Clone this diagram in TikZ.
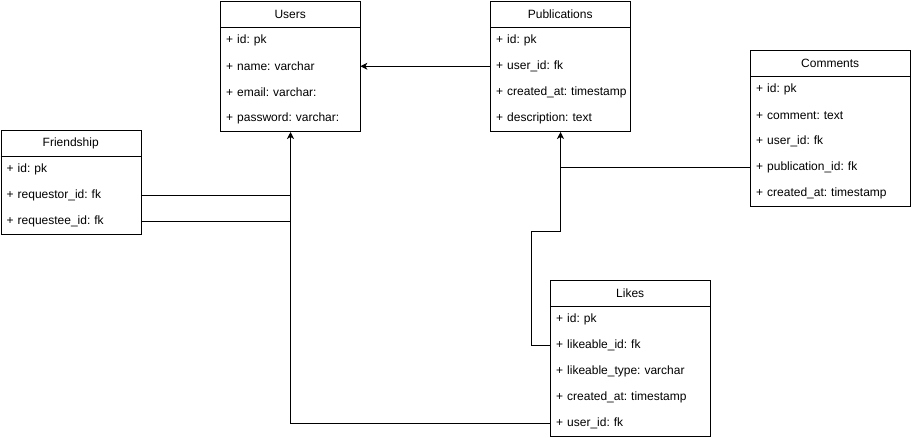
\documentclass[tikz,border=0pt]{standalone}
\usepackage{fontspec}
\setmainfont{Liberation Sans}
\usetikzlibrary{arrows.meta}

\begin{document}
\frenchspacing
\begin{tikzpicture}[
  x=1pt, y=-1pt,
  every node/.style={font=\fontsize{12pt}{14pt}\selectfont},
  tablebox/.style={draw=black, line width=1pt, anchor=north west, inner sep=0pt},
  tabletitle/.style={anchor=north west, inner sep=0pt, minimum height=26pt, align=center},
  tablerow/.style={anchor=north west, inner xsep=6pt, inner ysep=0pt, minimum height=26pt,
                   text width=#1, align=left},
  link/.style={line width=1pt, draw=black},
  fk/.style={link, -{Stealth[length=7pt,width=7pt,inset=2pt]}}
]
\useasboundingbox (0,0) rectangle (912,440);
\fill[white] (0,0) rectangle (912,440);

% ---------- Users ----------
\node[tablebox, minimum width=140pt, minimum height=130pt] (users) at (220,1) {};
\node[tabletitle, minimum width=140pt] (users-title) at (220,1) {Users};
\draw[link] (220,27) -- (360,27);
\node[tablerow=128pt] (users-id)    at (220,27)  {\mbox{+ id: pk}};
\node[tablerow=128pt] (users-name)  at (220,53)  {\mbox{+ name: varchar}};
\node[tablerow=128pt] (users-email) at (220,79)  {\mbox{+ email: varchar:}};
\node[tablerow=128pt] (users-pass)  at (220,105) {\mbox{+ password: varchar:}};

% ---------- Publications ----------
\node[tablebox, minimum width=140pt, minimum height=130pt] (pubs) at (490,1) {};
\node[tabletitle, minimum width=140pt] (pubs-title) at (490,1) {Publications};
\draw[link] (490,27) -- (630,27);
\node[tablerow=128pt] (pubs-id)   at (490,27)  {\mbox{+ id: pk}};
\node[tablerow=128pt] (pubs-user) at (490,53)  {\mbox{+ user\_id: fk}};
\node[tablerow=128pt] (pubs-date) at (490,79)  {\mbox{+ created\_at: timestamp}};
\node[tablerow=128pt] (pubs-desc) at (490,105) {\mbox{+ description: text}};

% ---------- Comments ----------
\node[tablebox, minimum width=160pt, minimum height=156pt] (com) at (750,50) {};
\node[tabletitle, minimum width=160pt] (com-title) at (750,50) {Comments};
\draw[link] (750,76) -- (910,76);
\node[tablerow=148pt] (com-id)   at (750,76)  {\mbox{+ id: pk}};
\node[tablerow=148pt] (com-text) at (750,102) {\mbox{+ comment: text}};
\node[tablerow=148pt] (com-user) at (750,128) {\mbox{+ user\_id: fk}};
\node[tablerow=148pt] (com-pub)  at (750,154) {\mbox{+ publication\_id: fk}};
\node[tablerow=148pt] (com-date) at (750,180) {\mbox{+ created\_at: timestamp}};

% ---------- Friendship ----------
\node[tablebox, minimum width=140pt, minimum height=104pt] (fr) at (0.5,130) {};
\node[tabletitle, minimum width=140pt] (fr-title) at (0.5,130) {Friendship};
\draw[link] (0.5,156) -- (140.5,156);
\node[tablerow=128pt] (fr-id)  at (0.5,156) {\mbox{+ id: pk}};
\node[tablerow=128pt] (fr-req) at (0.5,182) {\mbox{+ requestor\_id: fk}};
\node[tablerow=128pt] (fr-ree) at (0.5,208) {\mbox{+ requestee\_id: fk}};

% ---------- Likes ----------
\node[tablebox, minimum width=160pt, minimum height=156pt] (likes) at (550,280) {};
\node[tabletitle, minimum width=160pt] (likes-title) at (550,280) {Likes};
\draw[link] (550,306) -- (710,306);
\node[tablerow=148pt] (likes-id)   at (550,306) {\mbox{+ id: pk}};
\node[tablerow=148pt] (likes-lid)  at (550,332) {\mbox{+ likeable\_id: fk}};
\node[tablerow=148pt] (likes-type) at (550,358) {\mbox{+ likeable\_type: varchar}};
\node[tablerow=148pt] (likes-date) at (550,384) {\mbox{+ created\_at: timestamp}};
\node[tablerow=148pt] (likes-user) at (550,410) {\mbox{+ user\_id: fk}};

% ---------- Relations ----------
\coordinate (bend) at (531,231);

\draw[fk] (pubs-user.west) -- (users-name.east);
\draw[fk] (likes-user.west) -| (users.south);
\draw[link] (fr-req.east) -- (fr-req.east -| users.south);
\draw[link] (fr-ree.east) -- (fr-ree.east -| users.south);

\draw[fk] (likes-lid.west) -| (bend) -| (pubs.south);
\draw[link] (com-pub.west) -- (com-pub.west -| pubs.south);
\end{tikzpicture}
\end{document}
